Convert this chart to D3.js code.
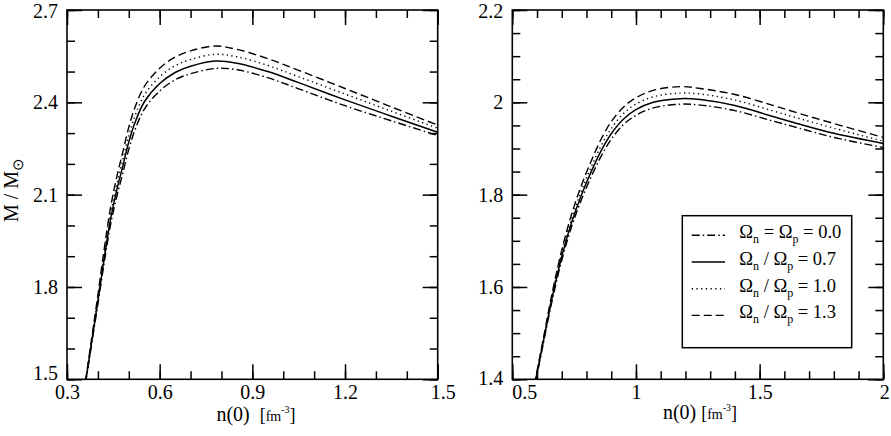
<!DOCTYPE html>
<html>
<head>
<meta charset="utf-8">
<script src="https://cdn.jsdelivr.net/npm/d3@7"></script>
<style>
  body { margin: 0; background: #fff; }
  svg { display: block; }
  svg text { font-family: "Liberation Serif", "Times New Roman", serif; fill: #000; }
  .tick text { font-size: 20px; }
  .domain { display: none; }
  .tick line { stroke: #000; stroke-width: 1.5; }
</style>
</head>
<body>
<svg id="chart" width="891" height="436"></svg>
<script>
// ---- left panel : M(n0), n0 in fm^-3
const nLeft = [0.36, 0.38, 0.40, 0.42, 0.44, 0.46, 0.48, 0.50, 0.52, 0.55,
               0.60, 0.65, 0.70, 0.78, 0.85, 0.95, 1.05, 1.20, 1.35, 1.50];
const leftStatic = [1.487, 1.616, 1.744, 1.876, 1.997, 2.089, 2.167, 2.247, 2.310, 2.377,
                    2.437, 2.473, 2.493, 2.510, 2.506, 2.480, 2.444, 2.389, 2.340, 2.292];
const left07 = [1.490, 1.622, 1.754, 1.890, 2.015, 2.110, 2.190, 2.271, 2.334, 2.401,
                2.461, 2.497, 2.517, 2.534, 2.527, 2.500, 2.464, 2.408, 2.355, 2.303];
const left10 = [1.492, 1.627, 1.763, 1.903, 2.032, 2.129, 2.211, 2.293, 2.356, 2.423,
                2.483, 2.519, 2.539, 2.556, 2.548, 2.520, 2.483, 2.427, 2.371, 2.316];
const left13 = [1.495, 1.634, 1.774, 1.920, 2.053, 2.153, 2.236, 2.319, 2.383, 2.451,
                2.511, 2.547, 2.567, 2.583, 2.572, 2.542, 2.504, 2.445, 2.385, 2.326];

// ---- right panel
const nRight = [0.58, 0.62, 0.66, 0.70, 0.74, 0.78, 0.82, 0.86, 0.90, 0.95,
                1.00, 1.07, 1.18, 1.26, 1.40, 1.55, 1.66, 1.80, 2.00];
const rightStatic = [1.358, 1.463, 1.568, 1.658, 1.731, 1.790, 1.840, 1.884, 1.920, 1.952,
                     1.972, 1.988, 1.996, 1.994, 1.982, 1.960, 1.944, 1.924, 1.902];
const right07 = [1.360, 1.467, 1.574, 1.666, 1.740, 1.800, 1.851, 1.896, 1.932, 1.964,
                 1.984, 2.000, 2.008, 2.006, 1.993, 1.970, 1.953, 1.933, 1.911];
const right10 = [1.361, 1.470, 1.579, 1.673, 1.748, 1.809, 1.861, 1.907, 1.943, 1.976,
                 1.996, 2.012, 2.020, 2.018, 2.005, 1.982, 1.965, 1.944, 1.916];
const right13 = [1.363, 1.473, 1.584, 1.680, 1.758, 1.821, 1.874, 1.921, 1.958, 1.990,
                 2.010, 2.026, 2.034, 2.030, 2.017, 1.994, 1.976, 1.954, 1.924];

// ---- ticks
const leftXTicks = [0.3, 0.6, 0.9, 1.2, 1.5];
const leftYTicks = [1.5, 1.8, 2.1, 2.4, 2.7];
const rightXTicks = [0.5, 1, 1.5, 2];
const rightYTicks = [1.4, 1.6, 1.8, 2.0, 2.2];

// ---- legend
const legendSeps = ['=', '/', '/', '/'];
const legendValues = ['0.0', '0.7', '1.0', '1.3'];

// line styles, one per series (static, 0.7, 1.0, 1.3)
const dashes = ['8,3,1.5,3', null, '1.3,3.4', '8,4'];

const svg = d3.select('#chart');
const steps = (a, b, s) => d3.range(Math.round((b - a) / s) + 1).map(i => +(a + i * s).toFixed(3));

const drawPanel = (p) => {
  const x = d3.scaleLinear().domain(p.xDomain).range([p.left, p.right]);
  const y = d3.scaleLinear().domain(p.yDomain).range([p.bottom, p.top]);
  const g = svg.append('g');
  const clipId = 'clip-' + p.name;

  g.append('clipPath').attr('id', clipId)
    .append('rect')
      .attr('x', p.left).attr('y', p.top)
      .attr('width', p.right - p.left).attr('height', p.bottom - p.top);

  const minorX = steps(p.xDomain[0], p.xDomain[1], p.minorX);
  const minorY = steps(p.yDomain[0], p.yDomain[1], p.minorY);

  // major + minor ticks on all four sides, pointing inward
  const axes = [
    [d3.axisBottom, x, `translate(0,${p.bottom})`],
    [d3.axisTop, x, `translate(0,${p.top})`],
    [d3.axisLeft, y, `translate(${p.left},0)`],
    [d3.axisRight, y, `translate(${p.right},0)`]
  ];
  axes.forEach(([axisFn, scale, tr], i) => {
    const horiz = i < 2;
    g.append('g').attr('transform', tr)
      .call(axisFn(scale).tickValues(horiz ? minorX : minorY).tickSize(-8).tickFormat(''));
    const major = axisFn(scale).tickValues(horiz ? p.xTicks : p.yTicks).tickSize(-15);
    if (i === 0) major.tickPadding(6).tickFormat(p.fmt);
    else if (i === 2) major.tickPadding(9).tickFormat(p.fmt);
    else major.tickFormat('');
    const ax = g.append('g').attr('transform', tr).call(major);
    ax.attr('font-family', null);
    // nudge end labels as in the original figure
    if (i === 0 && p.xLabelShift) {
      ax.selectAll('.tick text').attr('dx', (d, j) => p.xLabelShift[j] || 0);
    }
    if (i === 2 && p.yLabelShift) {
      ax.selectAll('.tick text')
        .attr('transform', (d, j) => `translate(0,${p.yLabelShift[j] || 0})`);
    }
  });

  // curves
  const line = d3.line()
    .x(d => x(d[0]))
    .y(d => y(d[1]))
    .curve(d3.curveCatmullRom.alpha(0.5));

  p.series.forEach((vals, i) => {
    g.append('path')
      .datum(p.n.map((n, j) => [n, vals[j]]))
      .attr('clip-path', `url(#${clipId})`)
      .attr('fill', 'none')
      .attr('stroke', '#000')
      .attr('stroke-width', i === 1 ? 1.5 : 1.4)
      .attr('stroke-dasharray', dashes[i])
      .attr('d', line);
  });

  // frame
  g.append('rect')
    .attr('x', p.left).attr('y', p.top)
    .attr('width', p.right - p.left).attr('height', p.bottom - p.top)
    .attr('fill', 'none').attr('stroke', '#000').attr('stroke-width', 1.6);

  // x title: n(0) [fm^-3]
  const xt = g.append('text')
    .attr('x', p.titleX).attr('y', p.titleY)
    .attr('text-anchor', 'middle')
    .style('white-space', 'pre');
  xt.append('tspan').attr('font-size', 20).text(p.titleGap);
  xt.append('tspan').attr('font-size', 18).text('[');
  xt.append('tspan').attr('font-size', 14).text('fm');
  xt.append('tspan').attr('font-size', 10).attr('dy', -8).text('-3');
  xt.append('tspan').attr('font-size', 18).attr('dy', 8).text(']');

  return {x, y, g};
};

drawPanel({
  name: 'left', n: nLeft, series: [leftStatic, left07, left10, left13],
  xDomain: [0.3, 1.5], yDomain: [1.5, 2.7],
  left: 67, right: 437.7, top: 10, bottom: 379.3,
  xTicks: leftXTicks, yTicks: leftYTicks, minorX: 0.1, minorY: 0.1,
  fmt: d3.format('.1f'),
  xLabelShift: [0, 0, 0, 0, 5],
  yLabelShift: [-6, 0, 0, 0, 1],
  titleX: 256, titleY: 421, titleGap: 'n(0)  '
});

const right = drawPanel({
  name: 'right', n: nRight, series: [rightStatic, right07, right10, right13],
  xDomain: [0.5, 2], yDomain: [1.4, 2.2],
  left: 512.3, right: 883.3, top: 10, bottom: 379.3,
  xTicks: rightXTicks, yTicks: rightYTicks, minorX: 0.1, minorY: 0.05,
  fmt: d3.format('~g'),
  xLabelShift: [12, 0, 0, 1],
  yLabelShift: [-1, 0, 0, 0, 1],
  titleX: 700, titleY: 419, titleGap: 'n(0) '
});

// legend
const lg = right.g.append('g');
lg.append('rect')
  .attr('x', 682.3).attr('y', 215.7).attr('width', 169.4).attr('height', 132)
  .attr('fill', '#fff').attr('stroke', '#000').attr('stroke-width', 1.5);

legendValues.forEach((v, i) => {
  const by = 238.3 + i * 26.7;
  lg.append('line')
    .attr('x1', 691.7).attr('x2', 725)
    .attr('y1', by - 3).attr('y2', by - 3)
    .attr('stroke', '#000')
    .attr('stroke-width', i === 1 ? 1.5 : 1.4)
    .attr('stroke-dasharray', dashes[i]);
  const t = lg.append('text').attr('x', 739.3).attr('y', by).attr('font-size', 18.5)
    .style('white-space', 'pre');
  t.append('tspan').text('\u03A9');
  t.append('tspan').attr('font-size', 12).attr('dy', 5).text('n');
  t.append('tspan').attr('dy', -5).text(` ${legendSeps[i]} \u03A9`);
  t.append('tspan').attr('font-size', 12).attr('dy', 5).text('p');
  t.append('tspan').attr('dy', -5).text(` = ${v}`);
});

// y title: M / M_sun
const yt = svg.append('text')
  .attr('transform', 'translate(18,190) rotate(-90)')
  .attr('text-anchor', 'middle')
  .attr('font-size', 20)
  .style('white-space', 'pre');
yt.append('tspan').text('M / M');
yt.append('tspan').attr('font-size', 15).attr('dy', 5).text('\u2299');
</script>
</body>
</html>
